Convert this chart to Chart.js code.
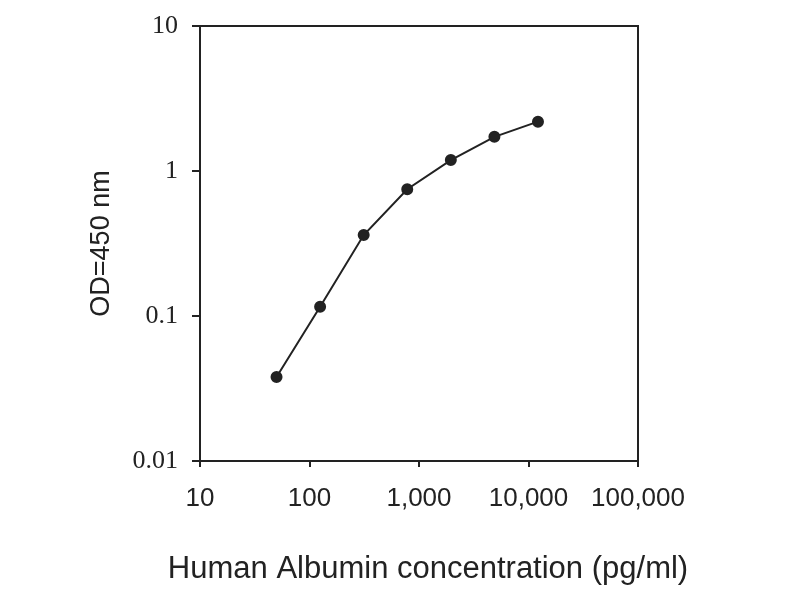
<!DOCTYPE html>
<html lang="en">
<head>
  <meta charset="UTF-8" />
  <title>Human Albumin standard curve</title>
  <script src="https://cdn.jsdelivr.net/npm/chart.js"></script>
  <style>
    body {
      margin: 0;
      background: #fff;
    }
    .chart-box {
      position: relative;
      width: 800px;
      height: 600px;
    }
  </style>
</head>
<body>

<div class="chart-box">
  <canvas id="curveChart" width="800" height="600"></canvas>
</div>

<script>
// standard concentrations (pg/ml) and measured OD at 450 nm
const concentrations = [50, 125, 312.5, 781, 1953, 4883, 12207];
const odValues = [0.038, 0.116, 0.362, 0.748, 1.19, 1.72, 2.19];

const xTicks = [10, 100, 1000, 10000, 100000];
const yTicks = [0.01, 0.1, 1, 10];

const xTitle = "Human Albumin concentration (pg/ml)";
const yTitle = "OD=450 nm";

const ink = "#222";
const sans = "Arial, 'Liberation Sans', sans-serif";

// Excel-style closed frame (top + right edges) and the x title, which the
// scale title would squeeze to the plot width, so it is drawn here instead
const decor = {
  id: "decor",
  afterDraw(chart) {
    const { ctx, chartArea: a } = chart;
    ctx.save();
    ctx.strokeStyle = ink;
    ctx.lineWidth = 2;
    ctx.beginPath();
    ctx.moveTo(a.left, a.top);
    ctx.lineTo(a.right, a.top);
    ctx.lineTo(a.right, a.bottom);
    ctx.stroke();

    ctx.fillStyle = ink;
    ctx.font = "31px " + sans;
    ctx.textAlign = "center";
    ctx.textBaseline = "middle";
    ctx.fillText(xTitle, (a.left + a.right) / 2 + 9, a.bottom + 108);
    ctx.restore();
  }
};

const noEdgePadding = (scale) => {
  scale.paddingTop = 0;
  scale.paddingBottom = 0;
  scale.paddingLeft = 0;
  scale.paddingRight = 0;
};

const points = concentrations.map((c, i) => ({ x: c, y: odValues[i] }));

new Chart(document.getElementById("curveChart"), {
  type: "line",
  data: {
    datasets: [{
      data: points,
      borderColor: ink,
      backgroundColor: ink,
      borderWidth: 2,
      pointRadius: 5,
      pointHoverRadius: 5,
      tension: 0
    }]
  },
  options: {
    responsive: false,
    animation: false,
    layout: { padding: { top: 26, right: 162, bottom: 0, left: 0 } },
    plugins: {
      legend: { display: false },
      tooltip: { enabled: false }
    },
    scales: {
      x: {
        type: "logarithmic",
        min: 10,
        max: 100000,
        afterBuildTicks: (scale) => { scale.ticks = xTicks.map(v => ({ value: v })); },
        afterFit: (scale) => { scale.height = 139; noEdgePadding(scale); },
        grid: { display: true, drawOnChartArea: false, drawTicks: true, tickLength: 6, color: ink, lineWidth: 2 },
        border: { display: true, color: ink, width: 2 },
        ticks: {
          color: ink,
          padding: 16,
          maxRotation: 0,
          autoSkip: false,
          font: { family: sans, size: 26 },
          callback: (v) => Number(v).toLocaleString("en-US")
        },
        title: { display: false }
      },
      y: {
        type: "logarithmic",
        min: 0.01,
        max: 10,
        afterBuildTicks: (scale) => { scale.ticks = yTicks.map(v => ({ value: v })); },
        afterFit: (scale) => { scale.width = 200; noEdgePadding(scale); },
        grid: { display: true, drawOnChartArea: false, drawTicks: true, tickLength: 8, color: ink, lineWidth: 2 },
        border: { display: true, color: ink, width: 2 },
        ticks: {
          color: ink,
          padding: 14,
          autoSkip: false,
          font: { family: "'Liberation Serif', serif", size: 26 },
          callback: (v) => String(v)
        },
        title: {
          display: true,
          text: yTitle,
          color: ink,
          font: { family: sans, size: 27, lineHeight: 1 },
          padding: { top: 88, bottom: 0 }
        }
      }
    }
  },
  plugins: [decor]
});
</script>

</body>
</html>
